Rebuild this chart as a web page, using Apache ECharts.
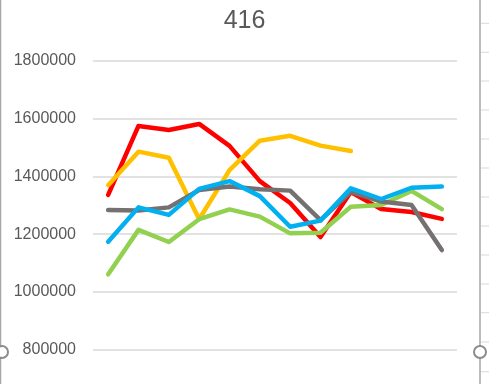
<!DOCTYPE html>
<html><head><meta charset="utf-8">
<script src="https://cdn.jsdelivr.net/npm/echarts@6/dist/echarts.min.js"></script>
<style>html,body{margin:0;padding:0;background:#fff}#c{width:489px;height:384px}</style>
</head><body><div id="c"></div>
<script>
const categories = ['1','2','3','4','5','6','7','8','9','10','11','12'];
const redValues    = [1336000,1575000,1561000,1582000,1506000,1384000,1308000,1190000,1346000,1287000,1277000,1253000];
const orangeValues = [1370000,1486000,1465000,1252000,1422000,1524000,1541000,1507000,1488000,null,null,null];
const greenValues  = [1061000,1215000,1173000,1252000,1286000,1261000,1203000,1205000,1295000,1301000,1350000,1287000];
const grayValues   = [1284000,1282000,1293000,1353000,1365000,1356000,1351000,1249000,1347000,1313000,1301000,1145000];
const blueValues   = [1174000,1293000,1267000,1357000,1384000,1332000,1226000,1247000,1359000,1322000,1361000,1365000];
const yTicks = [800000,1000000,1200000,1400000,1600000,1800000];

const chart = echarts.init(document.getElementById('c'), null, {renderer:'canvas'});
function s(name, data, color, z){
  return {name, type:'line', data, symbol:'none', z,
    lineStyle:{color, width:4.5, join:'round', cap:'round'}, itemStyle:{color}};
}
const rightTicks = [];
[23.3,52.3,81,110,139,168,197,226,255,284,312.7,342,371.7].forEach(y=>{
  rightTicks.push({type:'line', shape:{x1:481,y1:y,x2:489,y2:y}, style:{stroke:'#d9d9d9',lineWidth:1}, silent:true});
});
chart.setOption({
  animation:false,
  title:{text:'416', left:'center', top:4, textStyle:{fontFamily:'Liberation Sans, Arial', fontSize:25, fontWeight:'normal', color:'#595959'}},
  grid:{left:93, right:32, top:61, bottom:34.3},
  xAxis:{type:'category', data:categories, boundaryGap:true,
    axisLine:{show:false}, axisTick:{show:false}, axisLabel:{show:false}, splitLine:{show:false}},
  yAxis:{type:'value', min:yTicks[0], max:yTicks[yTicks.length-1], interval:200000,
    axisLine:{show:false}, axisTick:{show:false},
    axisLabel:{margin:17, fontFamily:'Liberation Sans, Arial', fontSize:16, color:'#595959', formatter:v=>String(v)},
    splitLine:{show:true, lineStyle:{color:'#d9d9d9', width:1.5}}},
  series:[
    s('red', redValues, '#ff0000', 2),
    s('orange', orangeValues, '#ffc000', 3),
    s('green', greenValues, '#92d050', 4),
    s('gray', grayValues, '#767171', 5),
    s('blue', blueValues, '#00b0f0', 6)
  ],
  graphic:[
    {type:'line', shape:{x1:0.5,y1:0,x2:0.5,y2:384}, style:{stroke:'#a6a6a6',lineWidth:1.5}, silent:true},
    {type:'line', shape:{x1:480,y1:0,x2:480,y2:384}, style:{stroke:'#a6a6a6',lineWidth:1.5}, silent:true},
    ...rightTicks,
    {type:'circle', shape:{cx:2,cy:352,r:6}, style:{fill:'#fff',stroke:'#8c8c8c',lineWidth:2}, silent:true, z:100},
    {type:'circle', shape:{cx:480,cy:352,r:6}, style:{fill:'#fff',stroke:'#8c8c8c',lineWidth:2}, silent:true, z:100}
  ]
});
</script></body></html>
